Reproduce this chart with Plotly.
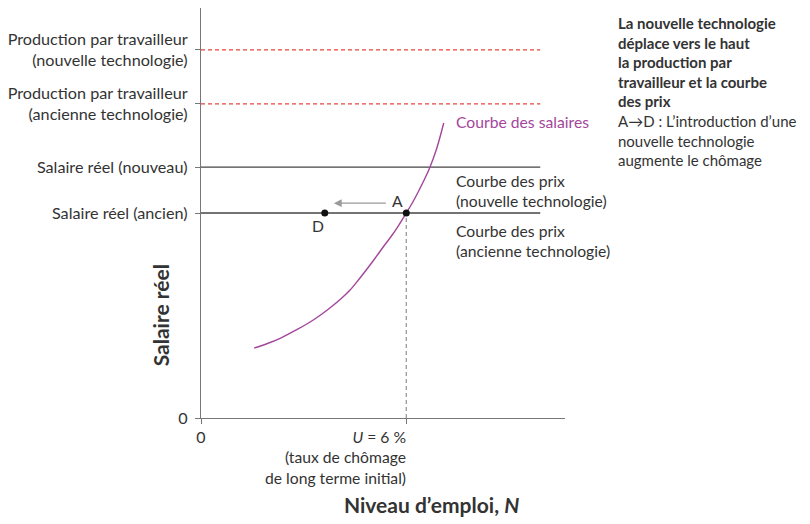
import plotly.graph_objects as go

# ---- data ----
x_max = 100
y_max = 100
line_end = 93.2
prod_new = 89.8
prod_old = 76.6
wage_new = 61.2
wage_old = 50.0
A_x = 56.4
D_x = 34.0
arrow_from = 51.2
arrow_to = 36.5
arrow_y = 52.4

curve_x = [14.63, 18.26, 21.88, 26.43, 31.06, 34.88, 38.69, 40.95, 43.24, 45.50, 47.77,
           50.05, 52.32, 54.36, 56.40, 58.04, 59.59, 61.17, 62.75, 64.71, 66.68]
curve_y = [17.07, 18.17, 19.51, 21.59, 24.02, 26.46, 29.27, 31.22, 33.66, 36.22, 38.90,
           41.71, 44.39, 47.07, 50.00, 52.44, 55.00, 57.80, 60.85, 65.61, 71.95]

ytick_vals = [0, wage_old, wage_new, prod_old, prod_new]
ytick_text = ["0", "Salaire réel (ancien)", "Salaire réel (nouveau)",
              "Production par travailleur<br>(ancienne technologie)",
              "Production par travailleur<br>(nouvelle technologie)"]

FONT = "Lato"
FS = 15.7
DARK = "#333333"
PURPLE = "#a3469b"
RED = "#e4473b"
GRAY = "#9a9a9a"

fig = go.Figure()

# dashed production lines
for lvl in [prod_new, prod_old]:
    fig.add_trace(go.Scatter(x=[0, line_end], y=[lvl, lvl], mode="lines",
                             line=dict(color=RED, width=1.3, dash="4px,3px"),
                             hoverinfo="skip", showlegend=False, cliponaxis=False))
# price curves
for lvl in [wage_new, wage_old]:
    fig.add_trace(go.Scatter(x=[0, line_end], y=[lvl, lvl], mode="lines",
                             line=dict(color="#444444", width=1.4),
                             hoverinfo="skip", showlegend=False, cliponaxis=False))
# vertical dashed from A
fig.add_trace(go.Scatter(x=[A_x, A_x], y=[0, wage_old], mode="lines",
                         line=dict(color=GRAY, width=1.3, dash="4px,3px"),
                         hoverinfo="skip", showlegend=False))
# wage curve
fig.add_trace(go.Scatter(x=curve_x, y=curve_y, mode="lines",
                         line=dict(color=PURPLE, width=1.4, shape="spline", smoothing=1.0),
                         hoverinfo="skip", showlegend=False))
# points A, D
fig.add_trace(go.Scatter(x=[A_x, D_x], y=[wage_old, wage_old], mode="markers",
                         marker=dict(color="#111111", size=7),
                         hoverinfo="skip", showlegend=False))

ann = []
# arrow
ann.append(dict(x=arrow_to, y=arrow_y, ax=arrow_from, ay=arrow_y, xref="x", yref="y",
                axref="x", ayref="y", showarrow=True, arrowhead=2, arrowsize=1.2,
                arrowwidth=1.3, arrowcolor=GRAY, text=""))
ann.append(dict(x=A_x - 2.5, y=wage_old + 3, xref="x", yref="y", text="A", showarrow=False,
                font=dict(family=FONT, size=FS, color=DARK)))
ann.append(dict(x=D_x - 1.8, y=wage_old - 3.2, xref="x", yref="y", text="D", showarrow=False,
                font=dict(family=FONT, size=FS, color=DARK)))
# curve labels
ann.append(dict(x=69.5, y=72.2, xref="x", yref="y", text="Courbe des salaires", showarrow=False,
                xanchor="left", yanchor="middle", font=dict(family=FONT, size=FS, color=PURPLE)))
ann.append(dict(x=69.5, y=55.4, xref="x", yref="y", text="Courbe des prix<br>(nouvelle technologie)",
                showarrow=False, xanchor="left", yanchor="middle", align="left",
                font=dict(family=FONT, size=FS, color=DARK)))
ann.append(dict(x=69.5, y=43.2, xref="x", yref="y", text="Courbe des prix<br>(ancienne technologie)",
                showarrow=False, xanchor="left", yanchor="middle", align="left",
                font=dict(family=FONT, size=FS, color=DARK)))
# U label
ann.append(dict(x=A_x, y=-0.02, xref="x", yref="paper", xshift=2,
                text="<i>U</i> = 6 %<br>(taux de chômage<br>de long terme initial)",
                showarrow=False, xanchor="right", yanchor="top", align="right",
                font=dict(family=FONT, size=FS, color=DARK)))
# axis titles
ann.append(dict(x=-0.112, y=0.251, xref="paper", yref="paper", text="<b>Salaire réel</b>",
                textangle=-90, showarrow=False, xanchor="center", yanchor="middle",
                font=dict(family=FONT, size=21, color=DARK)))
ann.append(dict(x=0.632, y=-0.212, xref="paper", yref="paper", text="<b>Niveau d’emploi, <i>N</i></b>",
                showarrow=False, xanchor="center", yanchor="middle",
                font=dict(family=FONT, size=21, color=DARK)))
# side text
ann.append(dict(x=1.139, y=0.990, xref="paper", yref="paper", xanchor="left", yanchor="top",
                align="left", showarrow=False,
                text="<b>La nouvelle technologie<br>déplace vers le haut<br>la production par<br>"
                     "travailleur et la courbe<br>des prix</b>",
                font=dict(family=FONT, size=15, color=DARK)))
ann.append(dict(x=1.139, y=0.752, xref="paper", yref="paper", xanchor="left", yanchor="top",
                align="left", showarrow=False,
                text="A→D : L’introduction d’une<br>nouvelle technologie<br>augmente le chômage",
                font=dict(family=FONT, size=15, color=DARK)))

fig.update_layout(
    width=802, height=516,
    margin=dict(l=190, r=245, t=0, b=106),
    plot_bgcolor="white", paper_bgcolor="white",
    annotations=ann,
    font=dict(family=FONT, size=FS, color=DARK),
)
fig.update_xaxes(range=[0, x_max], showgrid=False, zeroline=False, showline=True,
                 linecolor="#777777", linewidth=1.3, ticks="outside", ticklen=5,
                 tickcolor="#777777", tickvals=[0, A_x], ticktext=["0", ""],
                 tickfont=dict(family=FONT, size=16, color=DARK))
fig.update_yaxes(range=[0, y_max], showgrid=False, zeroline=False, showline=True,
                 linecolor="#777777", linewidth=1.3, ticks="outside", ticklen=5,
                 tickcolor="#777777", tickvals=ytick_vals, ticktext=ytick_text,
                 ticklabelstandoff=4,
                 tickfont=dict(family=FONT, size=16.2, color=DARK))

fig.write_html("out.html")
